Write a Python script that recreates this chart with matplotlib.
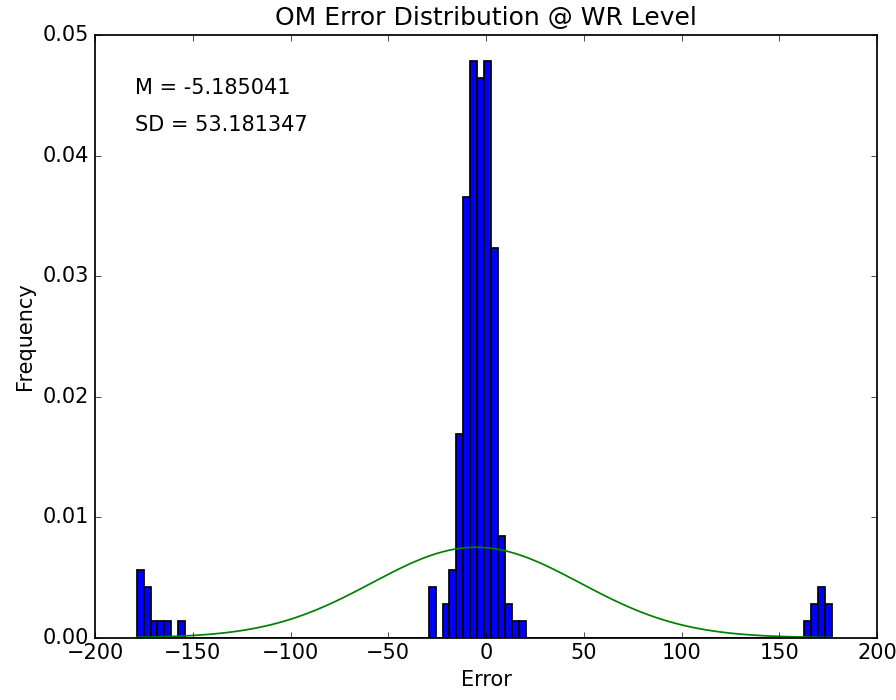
import numpy as np
import matplotlib
matplotlib.use("Agg")
import matplotlib.pyplot as plt

plt.style.use("classic")
plt.rcParams["axes.linewidth"] = 1.25
plt.rcParams["patch.linewidth"] = 1.25

# histogram: 100 bins between min and max error
err_min, err_max = -178.7, 176.8
n_bins = 100
# (bin index, count) for the non-empty bins
bin_idx = [0, 1, 2, 3, 4, 6,
           42, 44, 45, 46, 47, 48, 49, 50, 51, 52, 53, 54, 55,
           96, 97, 98, 99]
bin_count = [4, 3, 1, 1, 1, 1,
             3, 2, 4, 12, 26, 34, 33, 34, 23, 6, 2, 1, 1,
             1, 2, 3, 2]

mean_err = -5.185041
sd_err = 53.181347

edges = np.linspace(err_min, err_max, n_bins + 1)
centers = (edges[:-1] + edges[1:]) / 2
counts = np.zeros(n_bins)
counts[bin_idx] = bin_count

fig = plt.figure(figsize=(8.96, 7.0), dpi=100)
ax = fig.add_axes([0.106, 0.089, 0.873, 0.861])

ax.hist(centers, bins=edges, weights=counts, density=True, color="b")

# normal curve with the same mean / sd
xs = np.linspace(err_min, err_max, 300)
pdf = np.exp(-0.5 * ((xs - mean_err) / sd_err) ** 2) / (sd_err * np.sqrt(2 * np.pi))
ax.plot(xs, pdf, color="g", lw=1.25)

ax.set_xlim(-200, 200)
ax.set_ylim(0, 0.05)
ax.set_title("OM Error Distribution @ WR Level", fontsize=18, y=1.005)
ax.set_xlabel("Error", fontsize=15)
ax.set_ylabel("Frequency", fontsize=15, labelpad=6)
ax.tick_params(labelsize=15)

ax.text(0.051, 0.912, "M = %f" % mean_err, transform=ax.transAxes, fontsize=15, va="center")
ax.text(0.051, 0.851, "SD = %f" % sd_err, transform=ax.transAxes, fontsize=15, va="center")

fig.savefig("out.png", dpi=100, facecolor="white")
